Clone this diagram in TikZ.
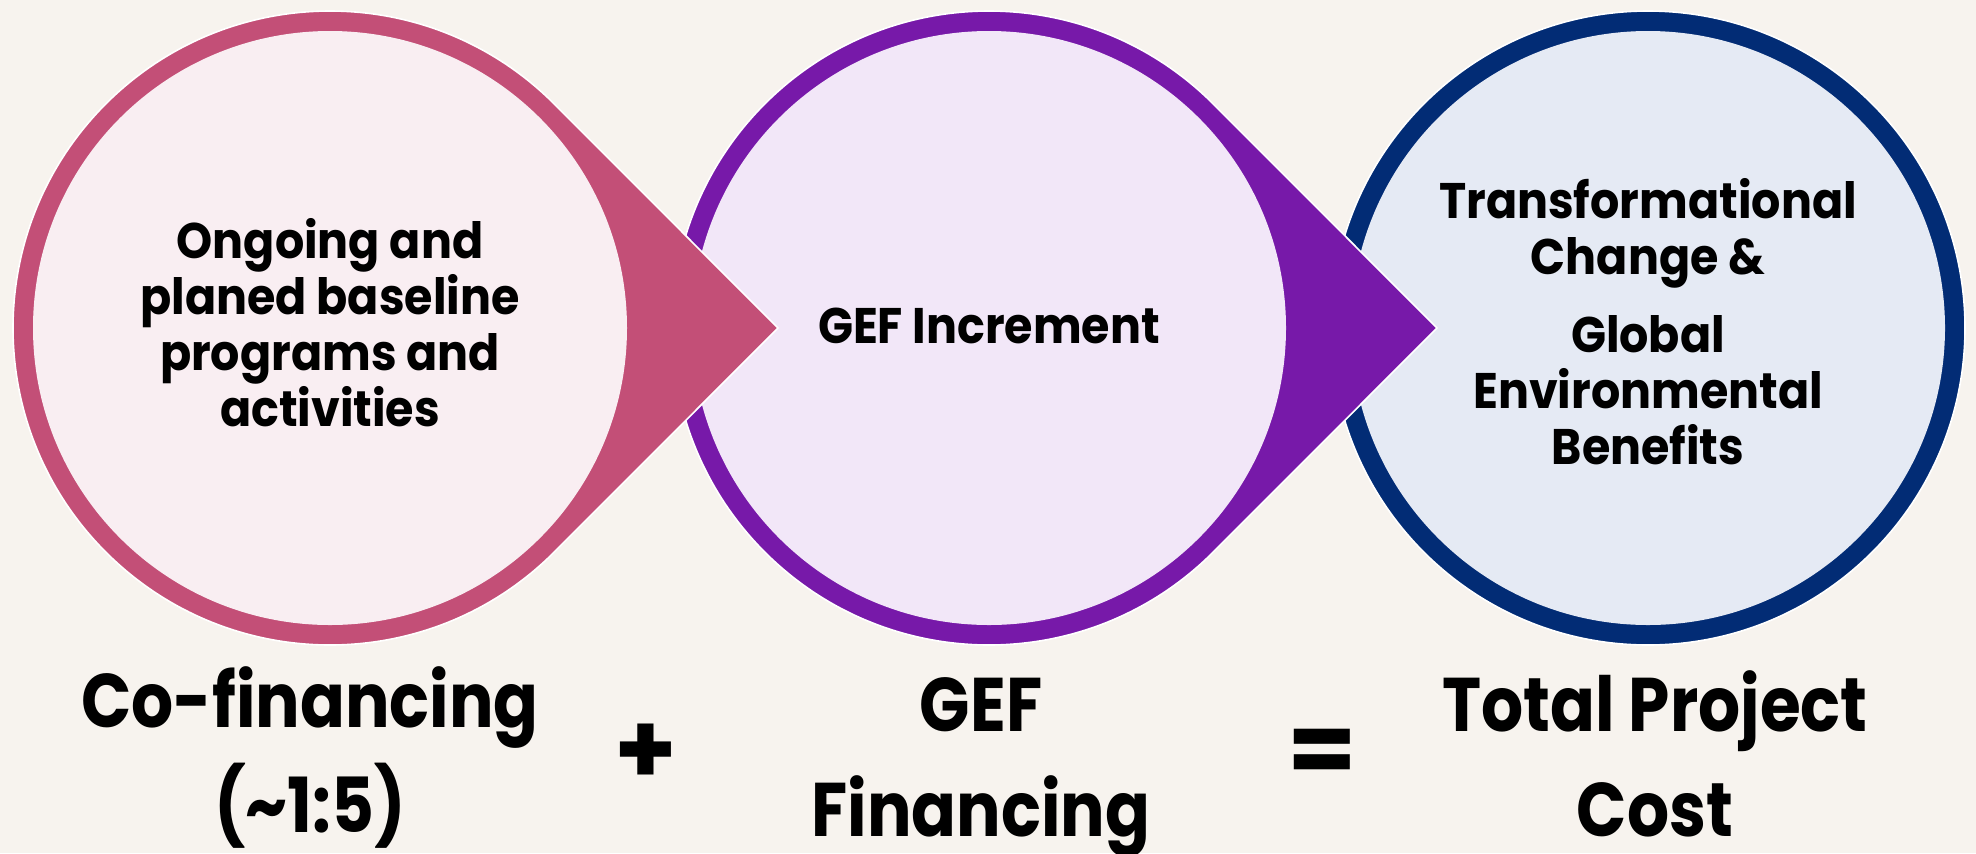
\documentclass[tikz,border=0pt]{standalone}
\usepackage{fontspec}
\newfontfamily\ffin[FakeStretch=0.92]{Poppins}
\newfontfamily\ffbot[FakeStretch=0.87]{Poppins}
\newfontfamily\ff{Poppins}
\definecolor{bg}{HTML}{F7F3EE}
\definecolor{pinkring}{HTML}{C34F77}
\definecolor{pinkfill}{HTML}{F9EEF2}
\definecolor{purplering}{HTML}{7719A9}
\definecolor{purplefill}{HTML}{F2E7F8}
\definecolor{navyring}{HTML}{022C75}
\definecolor{navyfill}{HTML}{E5EAF4}
\begin{document}
\begin{tikzpicture}[x=0.5pt,y=-0.5pt,
  ringedge/.style={draw=white,line width=0.8pt},
  intext/.style={font=\ffin\bfseries\fontsize{25}{28}\selectfont,align=center,text=black,inner sep=0pt,anchor=base},
  bottext/.style={font=\ffbot\bfseries\fontsize{38}{52.5}\selectfont,align=center,text=black,inner sep=0pt,anchor=base},
  optext/.style={font=\ff\bfseries\fontsize{50}{60}\selectfont,text=black,inner sep=0pt}]
\fill[bg] (0,0) rectangle (1976,853);
\useasboundingbox (0,0) rectangle (1976,853);
\coordinate (c1) at (330,328);
\coordinate (c2) at (989,328);
\coordinate (c3) at (1648,328);
\coordinate (t1) at (778,328);
\coordinate (t2) at (1437,328);
% navy circle
\fill[navyring,ringedge] (c3) circle[radius=317];
\fill[navyfill] (c3) circle[radius=297];
% purple teardrop
\fill[purplering,ringedge] ([shift={(45:317)}]c2) arc[start angle=45,end angle=315,radius=317] -- (t2) -- cycle;
\fill[purplefill] (c2) circle[radius=297];
% pink teardrop
\fill[pinkring,ringedge] ([shift={(45:317)}]c1) arc[start angle=45,end angle=315,radius=317] -- (t1) -- cycle;
\fill[pinkfill] (c1) circle[radius=297];
% texts
\node[intext] (txa) at (330,426) {Ongoing and\\planed baseline\\programs and\\activities};
\node[intext] (txb) at (989,343) {GEF Increment};
\node[intext] (txc) at (1648,464) {Transformational\\Change \&\\[11pt]Global\\Environmental\\Benefits};
\node[bottext] (ba) at (310,832) {Co-financing\\(\textasciitilde1:5)};
\node[bottext] (bb) at (981,836) {GEF\\Financing};
\node[bottext] (bc) at (1655,836) {Total Project\\Cost};
\node[optext] (plus) at (646,754) {+};
\node[optext] (eq) at (1322,757) {=};
\end{tikzpicture}
\end{document}
